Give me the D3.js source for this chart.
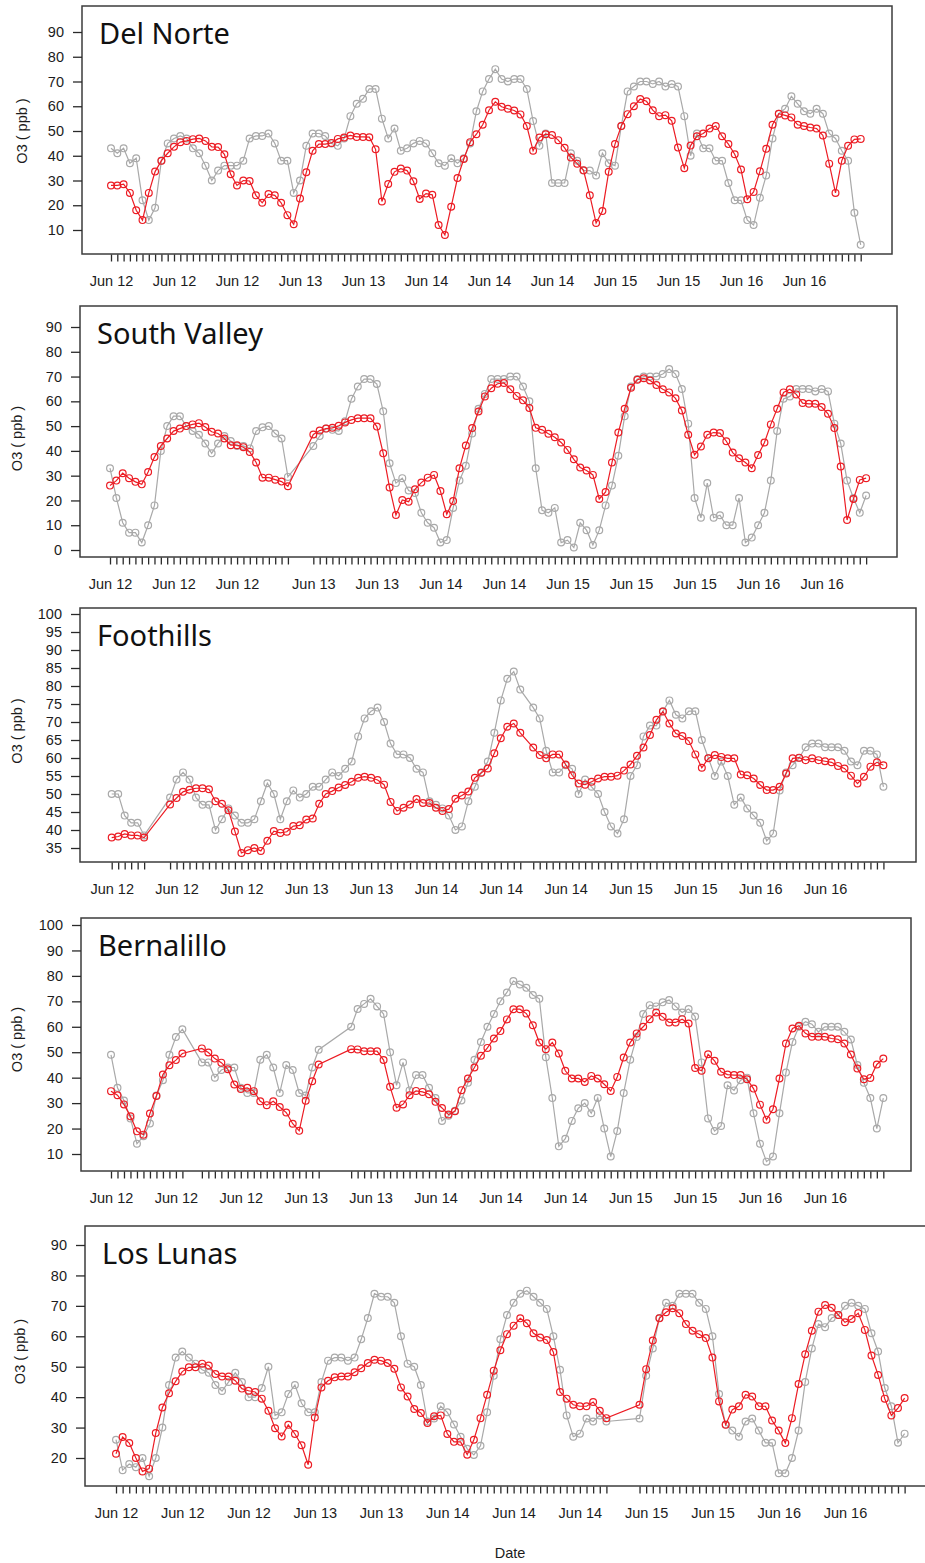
<!DOCTYPE html>
<html>
<head>
<meta charset="utf-8">
<script src="https://cdn.jsdelivr.net/npm/d3@7"></script>
<style>
	body { margin: 0; background: #fff; }
	svg { display: block; font-family: "Liberation Sans", Arial, sans-serif; }
	.title { font-family: "Noto Sans", sans-serif; font-size: 29px; fill: #111; }
	.axis text { font-size: 14.5px; fill: #1c1c1c; }
	.axis line { stroke: #2a2a2a; }
</style>
</head>
<body>
<svg id="chart" width="925" height="1563"></svg>
<script>

// ---- data: hourly O3 (ppb), hour 0 = Jun 12 00:00, null = no record ----
const START_DATE = new Date(2016, 5, 12, 0);
const stationNames = ["Del Norte", "South Valley", "Foothills", "Bernalillo", "Los Lunas"];

const redDelNorte = [28,28,28.5,25,18,14,25,33.6,38,41,43.6,45.5,46,46.7,47,46,43.6,43.5,40.6,32.5,
	28,30,29.8,24,21,24.5,24,21,16,12.3,22.7,33.3,42,44.7,44.7,45.2,46.8,47.4,48.2,47.6,
	47.6,47.5,42.6,21.5,28.6,33.5,34.8,34,29.7,22.5,24.7,24.2,12,8,19.4,31,38.7,45.5,48.7,52.5,
	58.4,61.8,59.8,59,58.3,56.7,52,42,47.4,48.7,48.4,46.3,43.2,39.3,36.8,34.1,24,12.8,17.7,33.5,
	44.7,52,56.8,60,62.9,62,58.4,56,56.4,54.1,43.3,35,44.1,47.9,49,51,52,47.9,44.7,40.6,
	34.4,22.4,25.4,33.7,42.8,52.5,57,56.3,55.5,52.5,52,51.4,51,48.2,36.8,25,38,44,46.6,46.8];
const grayDelNorte = [43,41,43,37,39,22,14,19,38,45,47,48,47,43,41,36,30,34,36,36,
	36,38,47,48,48,49,45,38,38,25,30,44,49,49,48,45,44,47,56,61,
	63,67,67,55,47,51,42,43,45,46,45,41,37,36,39,37,39,45,58,66,
	71,75,71,70,71,71,67,54,44,49,29,29,29,41,38,34,34,32,41,37,
	36,52,66,68,70,70,69,70,68,69,68,56,40,49,43,43,38,38,29,22,
	22,14,12,23,32,47,57,59,64,61,58,57,59,57,49,47,42,38,17,4];

const redSouthValley = [26,28,31,29,27.5,26.5,31.5,37.5,42,45,48,49,50,50.7,51.2,49.6,47.7,47,45,42.3,
	42.3,41.5,39.6,35.3,29.2,29.2,28.4,27.6,25.7,null,null,null,46.6,48.2,49,49.3,50.1,51.5,52.5,53.2,
	53.2,53.2,49.8,39,25.2,14.1,20.2,19.5,24.5,27.2,29.2,30.3,23.8,14.4,19.8,33,42.2,49.2,55.9,62,
	65.3,67.1,67.4,64.9,62.2,60.4,57.3,49.3,48.5,46.9,45.5,43.4,40.4,36.6,33.3,32.1,30.3,20.6,23.4,35.3,
	47.4,57,65.5,68.7,69.3,68.4,66.6,64.9,63.6,61.2,56.3,46.5,38.4,41.8,46.5,47.4,47.2,43.9,39.3,37,
	35.3,33,38.3,43.4,50.7,57,63.6,64.9,62.8,59.3,59,59,57.7,55,49.2,33.7,12.1,20.6,28.3,29];
const graySouthValley = [33,21,11,7,7,3,10,18,40,50,54,54,50,48,46.5,43,39,43,46,44,
	42,42,41,48,49.5,50,47,45,29.5,null,null,null,42,46,49,48.5,48,52,61,66,
	69,69,67,56,35,27,29,24,23,15,11,9,3,4,17,28,34,47,57,63,
	69,69,69,70,70,66,60,33,16,15,17,3,4,1,11,8,2,8,18,26,
	38,54,66,69,70,70,70,71,73,71,65,51,21,13,27,13,14,10,10,21,
	3,5,10,15,28,48,61,62,65,65,65,64,65,64,51,43,28,21,15,22];

const redFoothills = [37.9,38.2,38.9,38.5,38.5,37.9,null,null,null,47.1,48.9,50.6,51.2,51.6,51.6,51.3,48,47.3,45.5,39.6,
	33.6,34.4,35,34.2,37,39.7,39.2,39.5,41.1,41.3,42.9,43.2,47.3,50,50.8,51.8,52.5,53.4,54.5,54.8,
	54.5,53.9,52.6,47.8,45.3,46.2,47.1,48.6,47.5,47.5,46.2,45.3,45.8,48.7,49.6,50.7,54.5,55.9,57.1,61.3,
	65.5,68.7,69.6,67,null,62.9,60.8,59.9,61,61,58.2,55.2,52.9,52.6,53.4,54.3,54.8,54.8,55.1,56.5,
	58.2,60.6,62.9,66.4,70.6,72.9,69.6,66.8,66.1,64.7,61,57.3,59.9,60.8,60.3,59.9,59.9,55.4,55.2,54.3,
	52.5,51.1,51.1,52,55.7,59.9,60.1,59.4,59.9,59.4,59.1,58.8,57.8,57.1,55.1,52.9,54.8,57.6,58.8,58];
const grayFoothills = [50,50,44,42,42,38.5,null,null,null,49,54,56,54,49,47,47,40,43,46,44,
	42,42,43,48,53,50,43,48,51,49,50,52,52,54,56,55,57,59,66,71,
	73,74,70,64,61,61,60,57,56,48,47,46,44,40,41,48,52,56,59,67,
	76,82,84,79,null,74,71,62,56,56,58,57,50,54,52,50,45,41,39,43,
	55,58,66,69,69,73,76,72,71,73,73,65,60,55,59,55,47,49,46,44,
	42,37,39,51,56,58,60,63,64,64,63,63,63,62,59,58,62,62,61,52];

const redBernalillo = [34.7,33.1,29.5,24.8,18.9,17.6,25.9,32.8,41.2,44.9,46.9,49.5,null,null,51.5,49.9,47.5,45.9,43.3,37.3,
	35.5,36,34.7,30.7,29.2,30.7,28.5,26.3,21.9,19.1,30.9,38.6,45.2,null,null,null,null,51.2,51.1,50.4,
	50.4,50.4,46.9,36.4,28.2,29.5,33.1,34.8,34.4,33.5,30.5,28.1,25.5,26.8,35.1,39.7,44,48.6,51.7,55.4,
	58.3,62.9,66.9,66.9,65.2,60.6,53.8,51.2,53.8,49.5,42.7,39.7,39.7,38.3,40.7,39.7,37.4,34.8,40.3,47.9,
	53.8,57.4,60,63,65.6,63.9,61.7,61.7,63,61.3,43.8,42.7,49.2,46.6,42.3,41.2,41,41,39.4,35.7,
	29.4,23.5,27.6,39.7,53.4,59.3,60.4,57.4,56.1,56.1,56.1,55.4,55.1,53.4,49.1,43.6,39.4,39.9,45.2,47.5];
const grayBernalillo = [49,36,31,24,14,17,22,33,39,49,56,59,null,null,46,46,40,43,44,44,
	36,34,34,47,49,44,34,45,43,34,33,44,51,null,null,null,null,60,67,69,
	71,68,65,50,37,46,35,41,41,36,32,23,25,27,31,38,47,54,60,65,
	70,73.5,78,76.6,75.3,72.5,71,48,32,13,16,23,28,30,26,32,20,9,19,34,
	47,56,65,68.5,68,69.6,70.5,68,65.6,67,64,46,24,19,21,37,35,39,40,26,
	14,7,9,26,42,54,60,62,61,58,60,60,60,58,55,45,38,32,20,32];

const redLosLunas = [21.4,26.9,24.9,20,15.6,16.5,28.2,36.6,41.3,45.2,48.4,49.8,49.8,51,50.4,47.6,46.8,46.8,45.4,42.8,
	42.1,41.7,39.5,35.5,29.8,27.1,30.9,27.9,24.2,17.8,33.3,43.2,45.4,46.5,46.8,46.8,48.2,49.5,51.2,52.3,
	52,51.2,49.3,43.2,40.2,36.1,34.8,31.5,33.7,34,27.9,25.3,25.3,21.1,26,33.1,40.8,48.7,55.4,60.7,
	63.5,65.9,64.3,61,59.6,58.8,54.8,41.7,39.5,37.5,37,37,38.4,35.5,33.1,null,null,null,null,37.5,
	49.2,58.6,65.9,67.9,69.2,67.6,64,61.8,60.7,59.4,53,38.6,30.9,35.9,37,40.8,40.2,37,37,32.3,
	29,24.9,33.1,44.3,54.1,61.8,68.1,70.3,69.4,67,64.6,65.7,67.6,62.1,53.7,47.3,39.5,34,36.4,39.7];
const grayLosLunas = [26,16,18,17,20,14,20,30,44,53,55,53,51,49,48,44,42,45,48,45,
	40,40,43,50,34,35,41,44,38,35,35,45,52,53,53,52,53,59,66,74,
	73,73,71,60,51,50,44,32,33,37,35,31,27,23,21,24,35,47,59,67,
	71,74,75,73,71,69,60,49,34,27,28,33,32,34,32,null,null,null,null,33,
	47,56,66,71,70,74,74,74,71,69,60,41,31,29,27,32,33,29,25,25,
	15,15,20,29,45,56,64,63,66,67,70,71,70,69,61,55,43,37,25,28];

const redSeries = [redDelNorte, redSouthValley, redFoothills, redBernalillo, redLosLunas];
const graySeries = [grayDelNorte, graySouthValley, grayFoothills, grayBernalillo, grayLosLunas];

// y tick labels for each panel
const yTicksDelNorte = [10,20,30,40,50,60,70,80,90];
const yTicksSouthValley = [0,10,20,30,40,50,60,70,80,90];
const yTicksFoothills = [35,40,45,50,55,60,65,70,75,80,85,90,95,100];
const yTicksBernalillo = [10,20,30,40,50,60,70,80,90,100];
const yTicksLosLunas = [20,30,40,50,60,70,80,90];
const yTicks = [yTicksDelNorte, yTicksSouthValley, yTicksFoothills, yTicksBernalillo, yTicksLosLunas];

// hours (from Jun 12 00:00) that carry a date label
const labelHoursStd = [0,10,20,30,40,50,60,70,80,90,100,110];
const labelHoursSouthValley = [0,10,20,32,42,52,62,72,82,92,102,112];
const labelHours = [labelHoursStd, labelHoursSouthValley, labelHoursStd, labelHoursStd, labelHoursStd];

// ---- layout of each panel (pixels) ----
const LAYOUT = [
	{ box: [82, 6, 892, 254],    yPx: [230, 32],   x0: 111,   pxHour: 6.3,   ylabX: 22 },
	{ box: [80, 306, 897, 557],  yPx: [550, 327],  x0: 110,   pxHour: 6.354, ylabX: 17 },
	{ box: [80, 608, 916, 862],  yPx: [848, 614],  x0: 111.7, pxHour: 6.485, ylabX: 17 },
	{ box: [81, 918, 911, 1171], yPx: [1154, 925], x0: 111,   pxHour: 6.49,  ylabX: 17 },
	{ box: [85, 1226, 930, 1486], yPx: [1458, 1245], x0: 116, pxHour: 6.627, ylabX: 20 }
];

const RED = "#ec1c24";
const GRAY = "#a9a9a9";
const DOT_R = 3.4;
const HOUR_MS = 3600 * 1000;

var svg = d3.select("#chart");

function hourDate(h) { return new Date(+START_DATE + h * HOUR_MS); }

LAYOUT.forEach(function(L, p) {
	var box = L.box,
		ticks = yTicks[p];

	// scales
	var x = d3.scaleTime()
		.domain([hourDate(0), hourDate(110)])
		.range([L.x0, L.x0 + 110 * L.pxHour]);
	var y = d3.scaleLinear()
		.domain([ticks[0], ticks[ticks.length - 1]])
		.range(L.yPx);

	var g = svg.append("g").attr("class", "panel");

	// frame
	g.append("rect")
		.attr("x", box[0]).attr("y", box[1])
		.attr("width", box[2] - box[0]).attr("height", box[3] - box[1])
		.attr("fill", "none")
		.attr("stroke", "#3c3c3c")
		.attr("stroke-width", 1.5);

	// y axis
	g.append("g")
		.attr("class", "axis")
		.attr("transform", "translate(" + box[0] + ",0)")
		.call(d3.axisLeft(y).tickValues(ticks).tickSize(9).tickPadding(9))
		.call(a => a.select(".domain").remove())
		.selectAll("line").attr("stroke-width", 1.3);

	g.append("text")
		.attr("transform", "translate(" + L.ylabX + "," + ((L.yPx[0] + L.yPx[1]) / 2) + ") rotate(-90)")
		.attr("text-anchor", "middle")
		.attr("dy", "0.35em")
		.style("font-size", "14.5px")
		.style("fill", "#1c1c1c")
		.text("O3 ( ppb )");

	// points with data
	function toPoints(arr) {
		return arr.map((v, i) => ({ t: hourDate(i), v: v })).filter(d => d.v != null);
	}
	var redPts = toPoints(redSeries[p]),
		grayPts = toPoints(graySeries[p]);

	// x ticks at every recorded hour
	g.append("g")
		.attr("class", "axis")
		.attr("transform", "translate(0," + (box[3] + 0.5) + ")")
		.call(d3.axisBottom(x).tickValues(redPts.map(d => d.t)).tickSize(7).tickFormat(""))
		.call(a => a.select(".domain").remove())
		.selectAll("line").attr("stroke-width", 1.3);

	// x date labels
	g.append("g")
		.attr("class", "axis")
		.attr("transform", "translate(0," + box[3] + ")")
		.call(d3.axisBottom(x).tickValues(labelHours[p].map(hourDate))
			.tickSize(0).tickPadding(22).tickFormat(d3.timeFormat("%b %d")))
		.call(a => a.select(".domain").remove());

	// lines + open circles
	var line = d3.line().x(d => x(d.t)).y(d => y(d.v));
	[[grayPts, GRAY], [redPts, RED]].forEach(function(s) {
		g.append("path")
			.datum(s[0])
			.attr("d", line)
			.attr("fill", "none")
			.attr("stroke", s[1])
			.attr("stroke-width", 1.2);
		g.selectAll(null)
			.data(s[0])
		  .enter().append("circle")
			.attr("cx", d => x(d.t))
			.attr("cy", d => y(d.v))
			.attr("r", DOT_R)
			.attr("fill", "none")
			.attr("stroke", s[1])
			.attr("stroke-width", 1.2);
	});

	// station name
	g.append("text")
		.attr("class", "title")
		.attr("x", box[0] + 17)
		.attr("y", box[1] + 38)
		.text(stationNames[p]);
});

svg.append("text")
	.attr("x", 510)
	.attr("y", 1558)
	.attr("text-anchor", "middle")
	.style("font-size", "14.5px")
	.style("fill", "#1c1c1c")
	.text("Date");

</script>
</body>
</html>
